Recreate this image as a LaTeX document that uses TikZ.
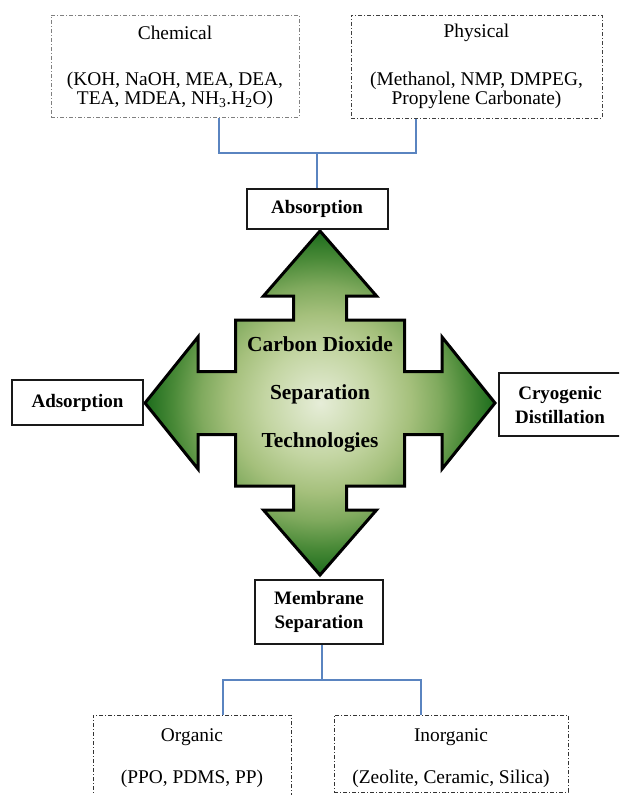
\documentclass[tikz,border=0pt]{standalone}
\usepackage{fontspec}
\setmainfont{Liberation Serif}
\usetikzlibrary{calc}

\definecolor{glowA}{HTML}{E6EDD8}
\definecolor{glowB}{HTML}{C3D5A2}
\definecolor{glowC}{HTML}{A5C07C}
\definecolor{glowD}{HTML}{80AA5E}
\definecolor{glowE}{HTML}{4A8A38}
\definecolor{glowF}{HTML}{1C6C1C}
\definecolor{busblue}{HTML}{5A84C0}
\pgfdeclareradialshading{crossglow}{\pgfpoint{0bp}{0bp}}{%
  color(0bp)=(glowA); color(8bp)=(glowB); color(13bp)=(glowC);
  color(17bp)=(glowD); color(21bp)=(glowE); color(25bp)=(glowF); color(50bp)=(glowF)}

\begin{document}
\begin{tikzpicture}[x=1pt, y=-1pt]

		% --- Parametri della croce (px) ---
		\def\tipV{172}
		\def\baseV{107}
		\def\headV{56.5}
		\def\shaftV{26.5}
		\def\tipH{175}
		\def\baseH{122}
		\def\headH{66}
		\def\shaftH{31.5}
		\def\coreW{84.5}
		\def\coreH{83}

		% --- Stili ---
		\tikzset{
			solid_box/.style={draw=black!90, line width=2pt, inner sep=0pt, align=center,
				font=\bfseries\fontsize{19}{24}\selectfont},
			dashed_box/.style={draw=#1, line width=1pt, inner sep=0pt,
				dash pattern=on 4pt off 2pt on 1pt off 2pt},
			box_text/.style={align=center, inner sep=0pt, font=\fontsize{19.4}{19}\selectfont},
			bus/.style={draw=busblue, line width=1.6pt},
			cross/.style={draw=black, line width=3pt, line join=miter, shade, shading=crossglow}
		}

		\useasboundingbox (0,0) rectangle (619,795);
		\clip (0,0) rectangle (619,795);

		% --- Croce centrale ---
		\begin{scope}[shift={(320,403)}]
			\path[cross] (0,-\tipV) -- (\headV,-\baseV) -- (\shaftV,-\baseV) -- (\shaftV,-\coreH)
				-- (\coreW,-\coreH) -- (\coreW,-\shaftH) -- (\baseH,-\shaftH) -- (\baseH,-\headH)
				-- (\tipH,0) -- (\baseH,\headH) -- (\baseH,\shaftH) -- (\coreW,\shaftH)
				-- (\coreW,\coreH) -- (\shaftV,\coreH) -- (\shaftV,\baseV) -- (\headV,\baseV)
				-- (0,\tipV) -- (-\headV,\baseV) -- (-\shaftV,\baseV) -- (-\shaftV,\coreH)
				-- (-\coreW,\coreH) -- (-\coreW,\shaftH) -- (-\baseH,\shaftH) -- (-\baseH,\headH)
				-- (-\tipH,0) -- (-\baseH,-\headH) -- (-\baseH,-\shaftH) -- (-\coreW,-\shaftH)
				-- (-\coreW,-\coreH) -- (-\shaftV,-\coreH) -- (-\shaftV,-\baseV) -- (-\headV,-\baseV) -- cycle;
			\node[align=center, font=\bfseries\fontsize{21.4}{48}\selectfont] (core) at (0,-9)
				{Carbon Dioxide\\Separation\\Technologies};
		\end{scope}

		% --- Tecnologie ---
		\node[solid_box, minimum width=141pt, minimum height=40pt] (abs) at (317,209) {Absorption};
		\node[solid_box, minimum width=131pt, minimum height=45pt] (ads) at (77.5,402.5) {Adsorption};
		\node[solid_box, minimum width=122pt, minimum height=63pt] (cryo) at (560,404.5) {Cryogenic\\Distillation};
		\node[solid_box, minimum width=128pt, minimum height=64pt] (mem) at (319,612) {Membrane\\Separation};

		% --- Sottocategorie ---
		\node[dashed_box=black!50, minimum width=248pt, minimum height=102pt] (chem) at (175,66) {};
		\node[box_text] (chemT) at (175,33) {Chemical};
		\node[box_text] (chemL) at (175,90) {(KOH, NaOH, MEA, DEA,\\TEA, MDEA, NH\textsubscript{3}.H\textsubscript{2}O)};

		\node[dashed_box=black!75, minimum width=251pt, minimum height=103pt] (phys) at (476.5,66.5) {};
		\node[box_text] (physT) at (476.5,33) {Physical};
		\node[box_text] (physL) at (476.5,90) {(Methanol, NMP, DMPEG,\\Propylene Carbonate)};

		\node[dashed_box=black!80, minimum width=198pt, minimum height=82pt] (org) at (192,756) {};
		\node[box_text] (orgT) at (192,737) {Organic};
		\node[box_text] (orgL) at (192,779) {(PPO, PDMS, PP)};

		\node[dashed_box=black!80, minimum width=234pt, minimum height=77pt] (inorg) at (451,753.5) {};
		\node[box_text] (inorgT) at (451,737) {Inorganic};
		\node[box_text] (inorgL) at (451,779) {(Zeolite, Ceramic, Silica)};

		% --- Collegamenti ---
		\coordinate (absJ) at ($(abs.north)+(0,-35)$);
		\draw[bus] ($(chem.south)+(44,0)$) |- (absJ) -- (abs.north);
		\draw[bus] ($(phys.south)+(-60.5,0)$) |- (absJ);

		\coordinate (memJ) at ($(mem.south)+(3,35)$);
		\draw[bus] ($(mem.south)+(3,0)$) -- (memJ);
		\draw[bus] ($(org.north)+(31,0)$) |- (memJ);
		\draw[bus] ($(inorg.north)+(-30,0)$) |- (memJ);

	\end{tikzpicture}
\end{document}
